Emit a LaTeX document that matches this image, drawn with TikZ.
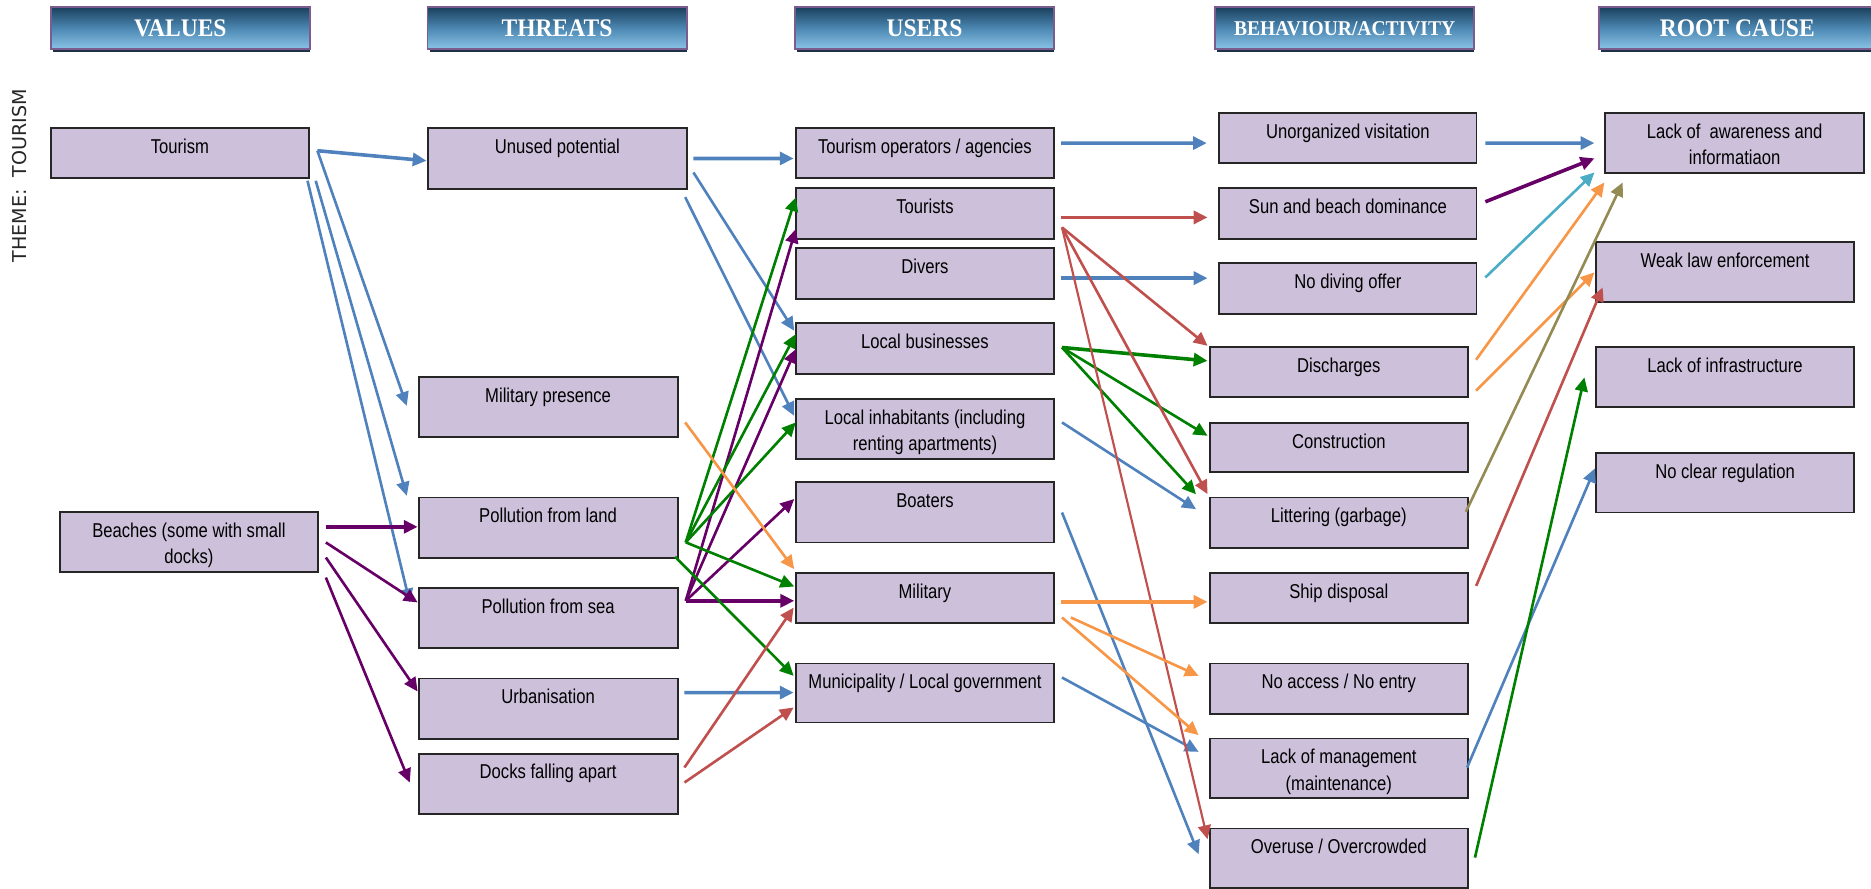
\documentclass[tikz,border=0pt]{standalone}
\usepackage{fontspec}
\setmainfont{Liberation Sans}
\newfontfamily\boxfont{Liberation Sans}[FakeStretch=0.83]
\newfontfamily\hdrfont{Liberation Serif}[FakeStretch=0.93]
\newfontfamily\themefont{DejaVu Sans}
\usetikzlibrary{arrows.meta,fit,calc}
\definecolor{boxfill}{HTML}{CCC0DA}
\definecolor{boxline}{HTML}{262626}
\definecolor{hdrtop}{HTML}{1B415E}
\definecolor{hdrmid}{HTML}{4C88B2}
\definecolor{hdrbot}{HTML}{8CC4E8}
\definecolor{hdrborder}{HTML}{7A5C8E}
\definecolor{hdrshadow}{HTML}{1F3147}
\definecolor{arblue}{HTML}{4F81BD}
\definecolor{arred}{HTML}{C0504D}
\definecolor{argreen}{HTML}{008000}
\definecolor{arpurple}{HTML}{660066}
\definecolor{arorange}{HTML}{F79646}
\definecolor{arcyan}{HTML}{4BACC6}
\definecolor{arolive}{HTML}{948A54}
\tikzset{
  box/.style={draw=boxline, fill=boxfill, line width=0.8pt, inner sep=0pt},
  txt/.style={font=\boxfont\fontsize{8.4}{10}\selectfont, inner sep=0pt, text=black},
  hdrbox/.style={draw=hdrborder, line width=0.8pt, top color=hdrtop, bottom color=hdrbot, middle color=hdrmid, inner sep=0pt},
  hdrtxt/.style={font=\hdrfont\bfseries\fontsize{10.6}{12}\selectfont, text=white, inner sep=0pt},
  con/.style={line width=1.1pt, -{Triangle[length=5.8pt,width=5.4pt]}},
  thk/.style={line width=1.5pt},
}
\newcommand\mybox[6]{%
  \node[box, fit={(#2,#3) (#4,#5)}] (#1) {};
  \node[txt, anchor=base] (#1-t) at ($(#1.north)+(0,22)$) {#6};}
\newcommand\mytwo[7]{%
  \node[box, fit={(#2,#3) (#4,#5)}] (#1) {};
  \node[txt, anchor=base] (#1-t) at ($(#1.north)+(0,22)$) {#6};
  \node[txt, anchor=base] (#1-u) at ($(#1.north)+(0,44)$) {#7};}
\newcommand\myhdr[5]{%
  \fill[hdrshadow] (#2+2,38) rectangle (#3,43.9);
  \node[hdrbox, fit={(#2,6.1) (#3,41.3)}] (#1) {};
  \node[hdrtxt, font=\hdrfont\bfseries\fontsize{#5}{12}\selectfont] (#1-t) at (#1.center) {#4};}
\newcommand\arr[5]{\draw[con,#1] ([shift={(#3)}]#2.north west) -- ([shift={(#5)}]#4.north west);}
\begin{document}
\begin{tikzpicture}[x=0.5pt,y=-0.5pt]
\useasboundingbox (0,0) rectangle (1568,745);
% headers
\myhdr{hvalues}{42.5}{259.8}{VALUES}{10.6}
\myhdr{hthreats}{358.3}{575.4}{THREATS}{10.6}
\myhdr{husers}{666}{883.5}{USERS}{10.6}
\myhdr{hbeh}{1018.3}{1235.4}{BEHAVIOUR/ACTIVITY}{8.8}
\myhdr{hroot}{1339.9}{1572}{ROOT CAUSE}{10.6}
% theme label
\node[font=\themefont\fontsize{8}{10}\selectfont, text=black!85, rotate=90, inner sep=0pt] (theme) at (16.8,147.4) {THEME:\ \ TOURISM};
% column 1
\mybox{tourism}{42.7}{107.6}{258.8}{149.5}{Tourism}
\mytwo{beaches}{50.3}{429.4}{266.4}{479.7}{Beaches (some with small}{docks)}
% column 2
\mybox{unused}{358.8}{107.6}{575.4}{158.7}{Unused potential}
\mybox{milpres}{350.8}{315.7}{567.9}{366.6}{Military presence}
\mybox{pland}{350.8}{416.9}{567.9}{467.4}{Pollution from land}
\mybox{psea}{350.8}{492.6}{567.9}{543.4}{Pollution from sea}
\mybox{urban}{350.8}{568.6}{567.9}{619.4}{Urbanisation}
\mybox{docks}{350.8}{631.5}{567.9}{682.3}{Docks falling apart}
% column 3
\mybox{tourop}{666.8}{107.6}{883.5}{149.5}{Tourism operators / agencies}
\mybox{tourists}{666.8}{157.9}{883.5}{200.3}{Tourists}
\mybox{divers}{666.8}{208.2}{883.5}{250.6}{Divers}
\mybox{localbiz}{666.8}{271}{883.5}{313.5}{Local businesses}
\mytwo{localinh}{666.8}{334.5}{883.5}{384.7}{Local inhabitants (including}{renting apartments)}
\mybox{boaters}{666.8}{404.3}{883.5}{454.6}{Boaters}
\mybox{military}{666.8}{480}{883.5}{522}{Military}
\mybox{munic}{666.8}{556}{883.5}{605.5}{Municipality / Local government}
% column 4
\mybox{unorg}{1021.8}{95}{1237.4}{136.9}{Unorganized visitation}
\mybox{sun}{1021.8}{157.9}{1237.4}{200.3}{Sun and beach dominance}
\mybox{nodiving}{1021.8}{220.7}{1237.4}{263.2}{No diving offer}
\mybox{discharges}{1013.7}{290.6}{1230.3}{332.5}{Discharges}
\mybox{construction}{1013.7}{354.3}{1230.3}{395.9}{Construction}
\mybox{littering}{1013.7}{416.9}{1230.3}{459.6}{Littering (garbage)}
\mybox{ship}{1013.7}{480}{1230.3}{522}{Ship disposal}
\mybox{noaccess}{1013.7}{556}{1230.3}{598}{No access / No entry}
\mytwo{lackmgmt}{1013.7}{618.9}{1230.3}{668.6}{Lack of management}{(maintenance)}
\mybox{overuse}{1013.7}{694.3}{1230.3}{743.8}{Overuse / Overcrowded}
% column 5
\mytwo{awareness}{1345.4}{95}{1562}{145.3}{Lack of\ \ awareness and}{informatiaon}
\mybox{weaklaw}{1337.4}{203.1}{1554}{253.4}{Weak law enforcement}
\mybox{infra}{1337.4}{290.6}{1554}{341.4}{Lack of infrastructure}
\mybox{noclear}{1337.4}{379.5}{1554}{429.5}{No clear regulation}
% blue connectors
\arr{arblue,thk}{tourism}{224.1,19.5}{unused}{-0.5,27.9}
\arr{arblue}{tourism}{224.1,19.5}{milpres}{-9.1,25.2}
\arr{arblue}{tourism}{222.7,44.7}{pland}{-9.1,-0.6}
\arr{arblue}{tourism}{215.8,44.7}{psea}{-6.6,13.1}
\arr{arblue,thk}{unused}{223.1,26}{tourop}{-0.9,26}
\arr{arblue}{unused}{223.1,37.7}{localbiz}{-0.4,7}
\arr{arblue}{unused}{216.2,58.4}{localinh}{-0.4,14.8}
\arr{arblue,thk}{urban}{223.6,12.6}{munic}{-0.9,25.2}
\arr{arblue,thk}{tourop}{223.3,13.1}{unorg}{-9.6,25.7}
\arr{arblue,thk}{divers}{223.1,25.7}{nodiving}{-9,13.2}
\arr{arblue,thk}{unorg}{223.8,25.7}{awareness}{-8.4,25.7}
\arr{arblue}{localinh}{224,20.3}{littering}{-10.6,10.6}
\arr{arblue}{boaters}{224,26}{overuse}{-8.4,22.4}
\arr{arblue}{munic}{224,12.6}{lackmgmt}{-8.4,12}
\arr{arblue}{lackmgmt}{216.6,25.1}{noclear}{0,13.9}
% cyan
\arr{arcyan}{nodiving}{223.8,12.6}{awareness}{-8.4,50.3}
% purple
\arr{arpurple,thk}{beaches}{223.6,12.9}{pland}{0,25.4}
\arr{arpurple}{beaches}{223.6,26}{psea}{0,13.1}
\arr{arpurple}{beaches}{223.6,38.6}{urban}{0,11.7}
\arr{arpurple}{beaches}{223.6,55.4}{docks}{-6.6,25.1}
\arr{arpurple}{psea}{224.7,11.7}{tourists}{0.9,34.9}
\arr{arpurple}{psea}{224.7,11.7}{localbiz}{0.9,22.4}
\arr{arpurple}{psea}{224.7,11.7}{boaters}{-0.4,14.7}
\arr{arpurple,thk}{psea}{224.7,11.7}{military}{-0.4,24.3}
\arr{arpurple,thk}{sun}{223.8,12}{awareness}{-8.4,38.5}
% green
\arr{argreen}{pland}{224.7,38.4}{tourists}{0.9,8.3}
\arr{argreen}{pland}{224.7,38.4}{localbiz}{0.9,9.8}
\arr{argreen}{pland}{224.7,38.4}{localinh}{0.9,20.3}
\arr{argreen}{pland}{224.7,38.4}{military}{-0.4,12.3}
\arr{argreen}{pland}{215.8,50.5}{munic}{-0.9,11.2}
\arr{argreen,thk}{localbiz}{224,21}{discharges}{-0.9,12.6}
\arr{argreen}{localbiz}{224,21}{construction}{-0.9,11.7}
\arr{argreen}{localbiz}{224,21}{littering}{-10.6,-1.9}
\arr{argreen}{overuse}{223.2,25.2}{infra}{-8.8,26.5}
% red
\arr{arred,thk}{tourists}{223.1,25.1}{sun}{-9,25.1}
\arr{arred}{tourists}{224,33.5}{discharges}{-0.9,0}
\arr{arred}{tourists}{224,33.5}{littering}{-0.9,-2}
\arr{arred,line width=0.9pt}{tourists}{224,33.5}{overuse}{-0.9,9.8}
\arr{arred}{ship}{224.2,11.8}{weaklaw}{6.5,38.6}
\arr{arred}{docks}{223.6,12.5}{military}{-0.9,30}
\arr{arred}{docks}{223.6,25.1}{munic}{-0.9,37.7}
% orange
\arr{arorange}{milpres}{224.2,39.1}{military}{-0.4,-2.2}
\arr{arorange,thk}{military}{223.1,25.2}{ship}{-0.9,25.2}
\arr{arorange}{military}{231.5,38.3}{noaccess}{-8.4,11.2}
\arr{arorange}{military}{224,38.3}{lackmgmt}{-8.4,-2}
\arr{arorange}{discharges}{224.1,11.7}{awareness}{-0.1,58.7}
\arr{arorange}{discharges}{224.1,37.7}{weaklaw}{-0.4,26}
% olive
\arr{arolive}{littering}{215.6,12.8}{awareness}{15.3,58.7}
\end{tikzpicture}
\end{document}
